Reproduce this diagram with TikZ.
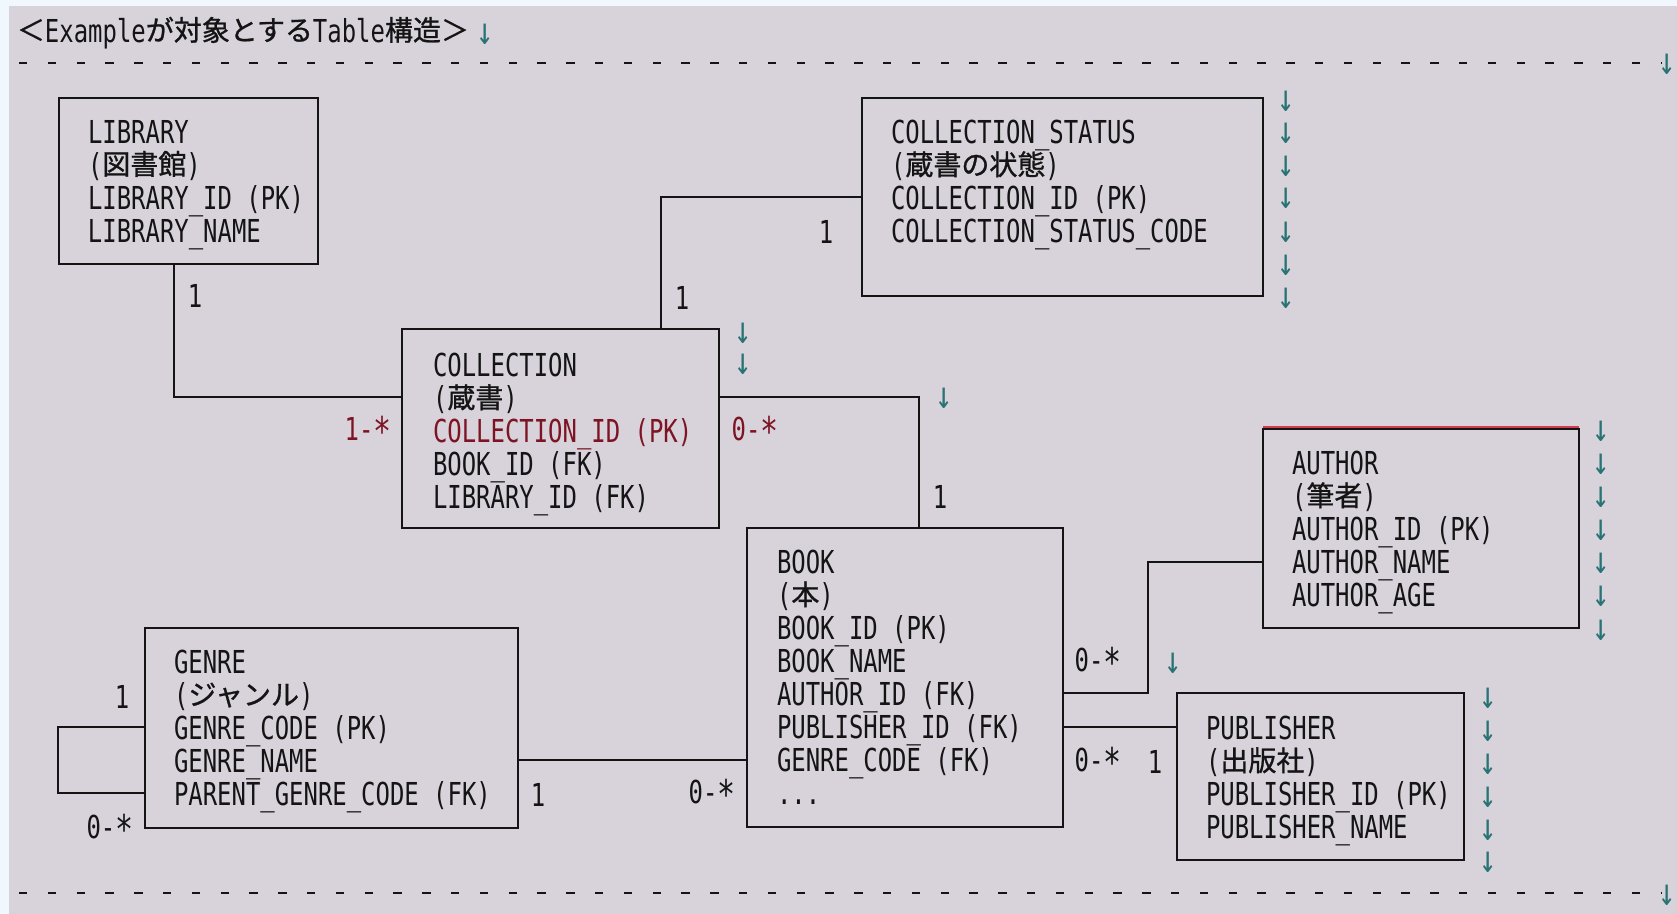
\documentclass[tikz,border=0pt]{standalone}
\usepackage{fontspec}
\usepackage{graphicx}
\usepackage{xcolor}
\usepackage{tikz}
\usetikzlibrary{calc,positioning}
\newfontfamily\tblfont[FakeStretch=0.757]{DejaVu Sans Mono}
\newfontfamily\kanafont[FakeBold=1]{Noto Sans CJK JP}
\newcommand\jp[1]{\raisebox{1pt}{\kanafont\fontsize{14pt}{16.5pt}\selectfont #1}}
\newcommand\many{\raisebox{-2.5pt}{\scalebox{1.25}{*}}}
\definecolor{PageBlue}{RGB}{240,248,254}
\definecolor{SheetGray}{RGB}{216,210,219}
\definecolor{Ink}{RGB}{20,20,20}
\definecolor{RetTeal}{RGB}{40,115,115}
\definecolor{KeyRed}{RGB}{125,20,35}
\definecolor{EdgeRed}{RGB}{210,60,80}

\begin{document}
\lineskiplimit=-10pt
\begin{tikzpicture}[x=0.5pt,y=-0.5pt,every node/.style={font=\tblfont\fontsize{15.8pt}{16.5pt}\selectfont,inner sep=0pt,outer sep=0pt}]
\tikzset{tbl/.style 2 args={draw=Ink,line width=1.3pt,minimum width=#1,minimum height=#2},
  cols/.style={anchor=north west,align=left,text=Ink},
  card/.style={text=Ink},
  keycard/.style={text=KeyRed},
  link/.style={draw=Ink,line width=1.1pt},
  ret/.style={text=RetTeal,font=\tblfont\fontsize{19pt}{19pt}\selectfont,text height=12pt,text depth=0pt},
  rule/.style={draw=Ink,line width=1.2pt,dash pattern=on 4.2pt off 10.2pt}}
\useasboundingbox (0,0) rectangle (1677,914);
\fill[PageBlue] (0,0) rectangle (1677,914);
\fill[SheetGray] (9,6) rectangle (1677,914);
% title and rules
\node[anchor=west,text=Ink] (title) at (17,33) {\jp{＜}Example\jp{が対象とする}Table\jp{構造＞}};
\node[ret,right=4pt of title] (title-ret) {↓};
\draw[rule] (19,63) -- (1662,63);
\node[ret] (top-ret) at (1667,63) {↓};
\draw[rule] (19,893) -- (1662,893);
\node[ret] (bottom-ret) at (1667,893) {↓};
% tables
\node[tbl={129.5pt}{83pt}] (library) at (188.5,181) {};
\node[tbl={200.5pt}{99pt}] (cstatus) at (1062.5,197) {};
\node[tbl={158.5pt}{99.5pt}] (collection) at (560.5,428.5) {};
\node[tbl={158pt}{149.5pt}] (book) at (905,677.5) {};
\node[tbl={158pt}{99.5pt}] (author) at (1421,528.5) {};
\node[tbl={186.5pt}{100pt}] (genre) at (331.5,728) {};
\node[tbl={143.5pt}{83.5pt}] (publisher) at (1320.5,776.5) {};
\draw[EdgeRed,line width=1.1pt] ($(author.north west)+(0,-2)$) -- ($(author.north east)+(0,-2)$);
\node[cols] (library-t) at ($(library.north west)+(29,22.5)$) {LIBRARY\\(\jp{図書館})\\LIBRARY\_ID (PK)\\LIBRARY\_NAME};
\node[cols] (cstatus-t) at ($(cstatus.north west)+(29,22.5)$) {COLLECTION\_STATUS\\(\jp{蔵書の状態})\\COLLECTION\_ID (PK)\\COLLECTION\_STATUS\_CODE};
\node[cols] (collection-t) at ($(collection.north west)+(31,24.5)$) {COLLECTION\\(\jp{蔵書})\\{\color{KeyRed}COLLECTION\_ID (PK)}\\BOOK\_ID (FK)\\LIBRARY\_ID (FK)};
\node[cols] (book-t) at ($(book.north west)+(30,22.5)$) {BOOK\\(\jp{本})\\BOOK\_ID (PK)\\BOOK\_NAME\\AUTHOR\_ID (FK)\\PUBLISHER\_ID (FK)\\GENRE\_CODE (FK)\\...};
\node[cols] (author-t) at ($(author.north west)+(29,22.5)$) {AUTHOR\\(\jp{筆者})\\AUTHOR\_ID (PK)\\AUTHOR\_NAME\\AUTHOR\_AGE};
\node[cols] (genre-t) at ($(genre.north west)+(29,22.5)$) {GENRE\\(\jp{ジャンル})\\GENRE\_CODE (PK)\\GENRE\_NAME\\PARENT\_GENRE\_CODE (FK)};
\node[cols] (publisher-t) at ($(publisher.north west)+(29,23.5)$) {PUBLISHER\\(\jp{出版社})\\PUBLISHER\_ID (PK)\\PUBLISHER\_NAME};
% relations
\draw[link] ($(library.south)+(-14.5,0)$) |- ($(collection.west)+(0,-31.5)$);
\draw[link] ($(collection.north)+(100.5,0)$) |- (cstatus.west);
\draw[link] ($(collection.east)+(0,-31.5)$) -| ($(book.north)+(14,0)$);
\draw[link] ($(genre.east)+(0,32)$) -- ($(book.west)+(0,82.5)$);
\draw[link] ($(genre.west)+(0,-1)$) -- ++(-87,0) -- ++(0,66) -- ($(genre.west)+(0,65)$);
\draw[link] ($(book.east)+(0,15.5)$) -- ++(85,0) |- ($(author.west)+(0,33.5)$);
\draw[link] ($(book.east)+(0,49.5)$) -- ($(publisher.west)+(0,-49.5)$);
% multiplicities
\node[card] (lib-one) at (195,296) {1};
\node[keycard] (lib-many) at (368,431) {1-\many};
\node[card] (cs-one) at (826,232) {1};
\node[card] (col-one) at (682,298) {1};
\node[keycard] (col-many) at (755,431) {0-\many};
\node[card] (bk-one) at (940,497) {1};
\node[card] (gen-one) at (122,697) {1};
\node[card] (gen-many) at (110,829) {0-\many};
\node[card] (gb-one) at (538,795) {1};
\node[card] (gb-many) at (712,794) {0-\many};
\node[card] (au-many) at (1098,662) {0-\many};
\node[card] (pub-many) at (1098,762) {0-\many};
\node[card] (pub-one) at (1155,762) {1};
% paragraph marks
\foreach \y [count=\i] in {100,132,165,197,231,264,297}
  \node[ret] (cs-ret\i) at (1286,\y) {↓};
\foreach \y [count=\i] in {332,363}
  \node[ret] (col-ret\i) at (743,\y) {↓};
\node[ret] (link-ret) at (944,397) {↓};
\foreach \y [count=\i] in {430,463,496,529,562,595,628}
  \node[ret] (au-ret\i) at (1601,\y) {↓};
\node[ret] (bk-ret) at (1173,662) {↓};
\foreach \y [count=\i] in {696,729,762,795,828,860}
  \node[ret] (pub-ret\i) at (1488,\y) {↓};
\end{tikzpicture}
\end{document}
